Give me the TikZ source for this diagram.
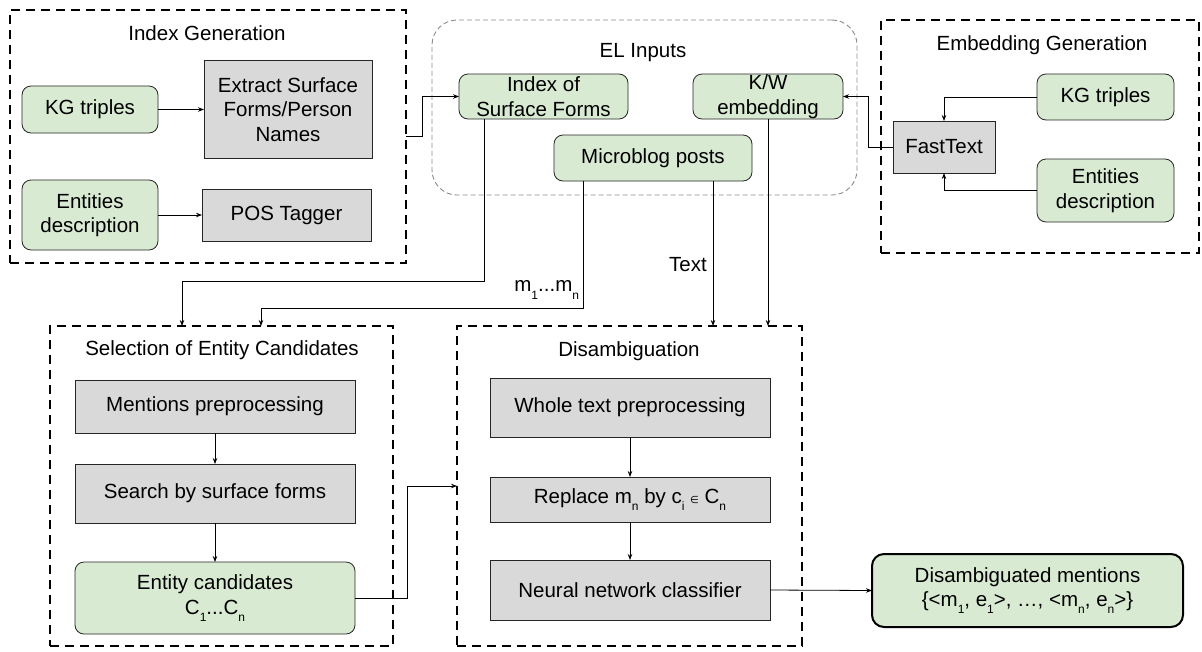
\documentclass[tikz,border=0pt]{standalone}
\usepackage{fontspec}
\setmainfont{Liberation Sans}
\newfontfamily\dejavu{DejaVu Sans}
\usetikzlibrary{arrows.meta,calc}
\definecolor{greenfill}{HTML}{D9EAD3}
\definecolor{grayfill}{HTML}{D9D9D9}
\definecolor{elgray}{HTML}{8A8A8A}
\newcommand\mysub[1]{\raisebox{-0.35em}{\fontsize{12}{12}\selectfont #1}}
\begin{document}
\begin{tikzpicture}[x=1pt,y=-1pt,
  every node/.style={inner sep=0pt,outer sep=0pt},
  txt/.style={font=\fontsize{20.5}{24.5}\selectfont,align=center},
  greenbox/.style={txt,draw=black!85,line width=0.8pt,fill=greenfill,rounded corners=9pt},
  graybox/.style={txt,draw=black!85,line width=0.8pt,fill=grayfill},
  groupbox/.style={draw=black,line width=2.2pt,dash pattern=on 9pt off 6pt},
  elbox/.style={draw=elgray,line width=0.9pt,dash pattern=on 5pt off 3pt,rounded corners=25pt},
  arr/.style={line width=0.8pt,-{Stealth[length=6pt,width=4.5pt]}},
  sz/.style 2 args={minimum width=#1pt,minimum height=#2pt}]
\useasboundingbox (0,0) rectangle (1202,651);
% groups
\node[groupbox,sz={396}{253}] (ig) at (208,136.5) {};
\node[txt] (igt) at (207,33) {Index Generation};
\node[elbox,sz={425}{175}] (el) at (644.5,107.5) {};
\node[txt] (elt) at (643,53) {EL Inputs};
\node[groupbox,sz={318}{233}] (eg) at (1040,136.5) {};
\node[txt] (egt) at (1042,45) {Embedding Generation};
\node[groupbox,sz={343}{320}] (sel) at (221.5,486) {};
\node[txt] (selt) at (222,350) {Selection of Entity Candidates};
\node[groupbox,sz={345}{320}] (dis) at (629.5,486) {};
\node[txt] (dist) at (629,351) {Disambiguation};
% index generation
\node[greenbox,sz={136}{47}] (kg1) at (90,109.5) {KG triples};
\node[graybox,sz={168}{98}] (ext) at (288,109.5) {Extract Surface\\Forms/Person\\Names};
\node[greenbox,sz={136}{70}] (ent1) at (90,215) {Entities\\description};
\node[graybox,sz={169}{52}] (pos) at (286.5,215) {POS Tagger};
% EL inputs
\node[greenbox,sz={169}{45}] (isf) at (543.5,96.5) {Index of\\Surface Forms};
\node[greenbox,sz={150}{45}] (kw) at (768,96.5) {K/W\\embedding};
\node[greenbox,sz={198}{46}] (mb) at (653,158) {Microblog posts};
% embedding generation
\node[greenbox,sz={137}{46}] (kg2) at (1105.5,97) {KG triples};
\node[graybox,sz={102}{52}] (ft) at (944,147) {FastText};
\node[greenbox,sz={137}{63}] (ent2) at (1105.5,190.5) {Entities\\description};
% selection
\node[graybox,sz={280}{53}] (mp) at (215,406.5) {Mentions preprocessing};
\node[graybox,sz={280}{59}] (sbs) at (215,493.5) {Search by surface forms};
\node[greenbox,sz={280}{72}] (ec) at (215,598) {Entity candidates\\C\mysub{1}...C\mysub{n}};
% disambiguation
\node[graybox,sz={280}{59}] (wtp) at (630,407.5) {Whole text preprocessing};
\node[graybox,sz={280}{45}] (rep) at (630,499.5) {Replace m\mysub{n} by c\mysub{i} {\dejavu\fontsize{10}{10}\selectfont ∈} C\mysub{n}};
\node[graybox,sz={280}{60}] (nn) at (630,590) {Neural network classifier};
% output
\node[greenbox,draw=black,line width=2pt,rounded corners=12pt,sz={311}{73}] (out) at (1027.5,590.5) {Disambiguated mentions\\\{<m\mysub{1}, e\mysub{1}>, …, <m\mysub{n}, e\mysub{n}>\}};
% labels
\node[txt,anchor=east] (lm) at (579,290) {m\mysub{1}...m\mysub{n}};
\node[txt] (lt) at (688,265) {Text};
% connectors
\draw[arr] (kg1.east) -- (ext.west);
\draw[arr] (ent1.east) -- (pos.west);
\draw[arr] (ig.east) -- ++(16,0) |- (isf.west);
\draw[arr] (ft.west) -- ++(-25,0) |- (kw.east);
\draw[arr] (kg2.west) -| (ft.north);
\draw[arr] (ent2.west) -| (ft.south);
\draw[arr] ([xshift=25pt]isf.south west) -- ++(0,162) -| ([xshift=-39.5pt]sel.north);
\draw[arr] ([xshift=29pt]mb.south west) -- ++(0,127) -| ([xshift=39.5pt]sel.north);
\draw[arr] ([xshift=-39pt]mb.south east) -- ([xshift=-39pt]mb.south east |- dis.north);
\draw[arr] (kw.south) -- (kw.south |- dis.north);
\draw[arr] (mp.south) -- (sbs.north);
\draw[arr] (sbs.south) -- (ec.north);
\draw[arr] (wtp.south) -- (rep.north);
\draw[arr] (rep.south) -- (nn.north);
\draw[arr] (ec.east) -- ++(52,0) |- (dis.west);
\draw[arr] (nn.east) -- (out.west);
\end{tikzpicture}
\end{document}
